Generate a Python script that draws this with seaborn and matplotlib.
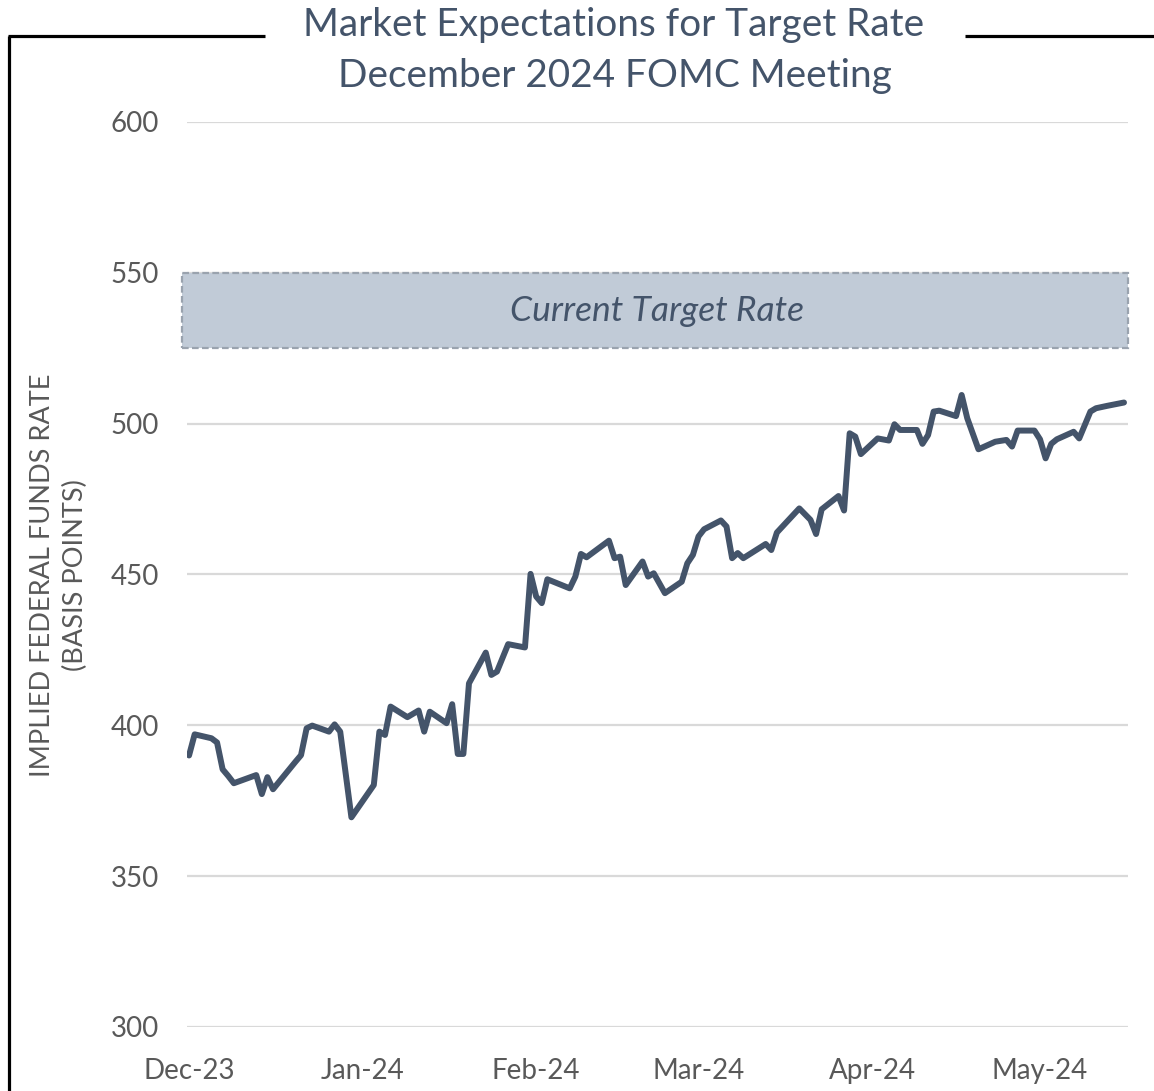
import pandas as pd
import matplotlib.pyplot as plt
import matplotlib.dates as mdates
from matplotlib.lines import Line2D
import seaborn as sns

# Implied rate for the December 2024 FOMC meeting (basis points)
dates = [
    "2023-12-01", "2023-12-02", "2023-12-05", "2023-12-06", "2023-12-07", "2023-12-08",
    "2023-12-09", "2023-12-13", "2023-12-14", "2023-12-15", "2023-12-16", "2023-12-20",
    "2023-12-21", "2023-12-22", "2023-12-23", "2023-12-26", "2023-12-27", "2023-12-28",
    "2023-12-30", "2024-01-03", "2024-01-04", "2024-01-05", "2024-01-06", "2024-01-09",
    "2024-01-11", "2024-01-12", "2024-01-13", "2024-01-16", "2024-01-17", "2024-01-18",
    "2024-01-19", "2024-01-20", "2024-01-23", "2024-01-24", "2024-01-25", "2024-01-27",
    "2024-01-30", "2024-01-31", "2024-02-01", "2024-02-02", "2024-02-03", "2024-02-07",
    "2024-02-08", "2024-02-09", "2024-02-10", "2024-02-14", "2024-02-15", "2024-02-16",
    "2024-02-17", "2024-02-20", "2024-02-21", "2024-02-22", "2024-02-24", "2024-02-27",
    "2024-02-28", "2024-02-29", "2024-03-01", "2024-03-02", "2024-03-05", "2024-03-06",
    "2024-03-07", "2024-03-08", "2024-03-09", "2024-03-13", "2024-03-14", "2024-03-15",
    "2024-03-19", "2024-03-21", "2024-03-22", "2024-03-23", "2024-03-26", "2024-03-27",
    "2024-03-28", "2024-03-29", "2024-03-30", "2024-04-02", "2024-04-04", "2024-04-05",
    "2024-04-06", "2024-04-09", "2024-04-10", "2024-04-11", "2024-04-12", "2024-04-13",
    "2024-04-16", "2024-04-17", "2024-04-18", "2024-04-20", "2024-04-23", "2024-04-25",
    "2024-04-26", "2024-04-27", "2024-04-30", "2024-05-01", "2024-05-02", "2024-05-03",
    "2024-05-04", "2024-05-07", "2024-05-08", "2024-05-10", "2024-05-11", "2024-05-13",
    "2024-05-16",
]
implied_rate = [
    390, 397, 395.7, 394.3, 385.4, 383.2,
    380.8, 383.5, 377.2, 382.8, 378.8, 387.9,
    390.1, 399.0, 399.9, 397.9, 400.3, 397.9,
    369.5, 380.2, 397.9, 396.8, 406.2, 402.7,
    404.9, 397.9, 404.5, 400.7, 407.0, 390.5,
    390.5, 413.9, 424.1, 416.7, 417.8, 426.9,
    425.8, 450.2, 442.7, 440.5, 448.4, 445.4,
    449.3, 456.8, 455.7, 461.2, 455.4, 455.9,
    446.5, 454.3, 449.3, 450.4, 443.8, 447.6,
    453.7, 456.5, 462.6, 465.0, 467.9, 465.9,
    455.4, 457.1, 455.4, 460.1, 458.1, 463.9,
    471.9, 468.1, 463.4, 471.6, 476.0, 471.2,
    496.8, 495.7, 489.9, 495.1, 494.4, 499.8,
    497.9, 497.9, 493.3, 496.2, 504.0, 504.3,
    502.5, 509.5, 501.8, 491.5, 494.0, 494.6,
    492.4, 497.7, 497.7, 494.8, 488.5, 493.3,
    494.8, 497.3, 495.1, 504.0, 505.1, 505.9,
    507.0,
]
target_low, target_high = 525, 550
y_ticks = [300, 350, 400, 450, 500, 550, 600]

df = pd.DataFrame({"date": pd.to_datetime(dates), "rate": implied_rate})

sns.set_style("white")
plt.rcParams["font.family"] = ["Lato", "DejaVu Sans"]

text_col = "#44546a"
tick_col = "#595959"

fig = plt.figure(figsize=(11.54, 10.91), dpi=100)
ax = fig.add_axes([0.1620, 0.0587, 0.8154, 0.8295])

for v in y_ticks:
    ax.axhline(v, color="#d9d9d9", lw=1.6, zorder=0)

# current target rate band
ax.axhspan(target_low, target_high, xmin=-0.0053, xmax=1.0, facecolor="#c1cbd7",
           edgecolor="#9aa3ae", ls=(0, (3, 1.5)), lw=1.6, clip_on=False, zorder=1)
start = df["date"].min()
ax.text(0.5, (target_low + target_high) / 2, "Current Target Rate", transform=ax.get_yaxis_transform(),
        ha="center", va="center", style="italic", fontsize=25.5, color=text_col, zorder=2)

sns.lineplot(data=df, x="date", y="rate", ax=ax, color="#44546a", lw=4.3, zorder=3)

ax.set_ylim(300, 600)
ax.set_xlim(start - pd.Timedelta(hours=9), start + pd.Timedelta(days=167.7))
ax.set_yticks(y_ticks)
ax.xaxis.set_major_locator(mdates.MonthLocator())
ax.xaxis.set_major_formatter(mdates.DateFormatter("%b-%y"))
ax.tick_params(axis="both", length=0, labelsize=20, labelcolor=tick_col)
ax.tick_params(axis="y", pad=20)
ax.tick_params(axis="x", pad=22.5)
ax.set_xlabel("")
ax.set_ylabel("")
sns.despine(ax=ax, left=True, bottom=True)

fig.text(0.0510, 0.473, "IMPLIED FEDERAL FUNDS RATE\n(BASIS POINTS)", rotation=90,
         ha="center", va="center", multialignment="center", fontsize=19.5, color=tick_col,
         linespacing=1.4)

fig.text(0.532, 0.977, "Market Expectations for Target Rate", ha="center", va="center",
         fontsize=27.9, color=text_col)
fig.text(0.533, 0.930, "December 2024 FOMC Meeting", ha="center", va="center",
         fontsize=27.9, color=text_col)

# outer frame broken by the title
y_top = 1 - 36 / 1091
for xs, ys in [([8 / 1154, 265 / 1154], [y_top, y_top]),
               ([965 / 1154, 1.0], [y_top, y_top]),
               ([9 / 1154, 9 / 1154], [y_top, 0.0])]:
    fig.add_artist(Line2D(xs, ys, color="black", lw=2.3, solid_capstyle="butt"))

fig.savefig("out.png", dpi=100)
